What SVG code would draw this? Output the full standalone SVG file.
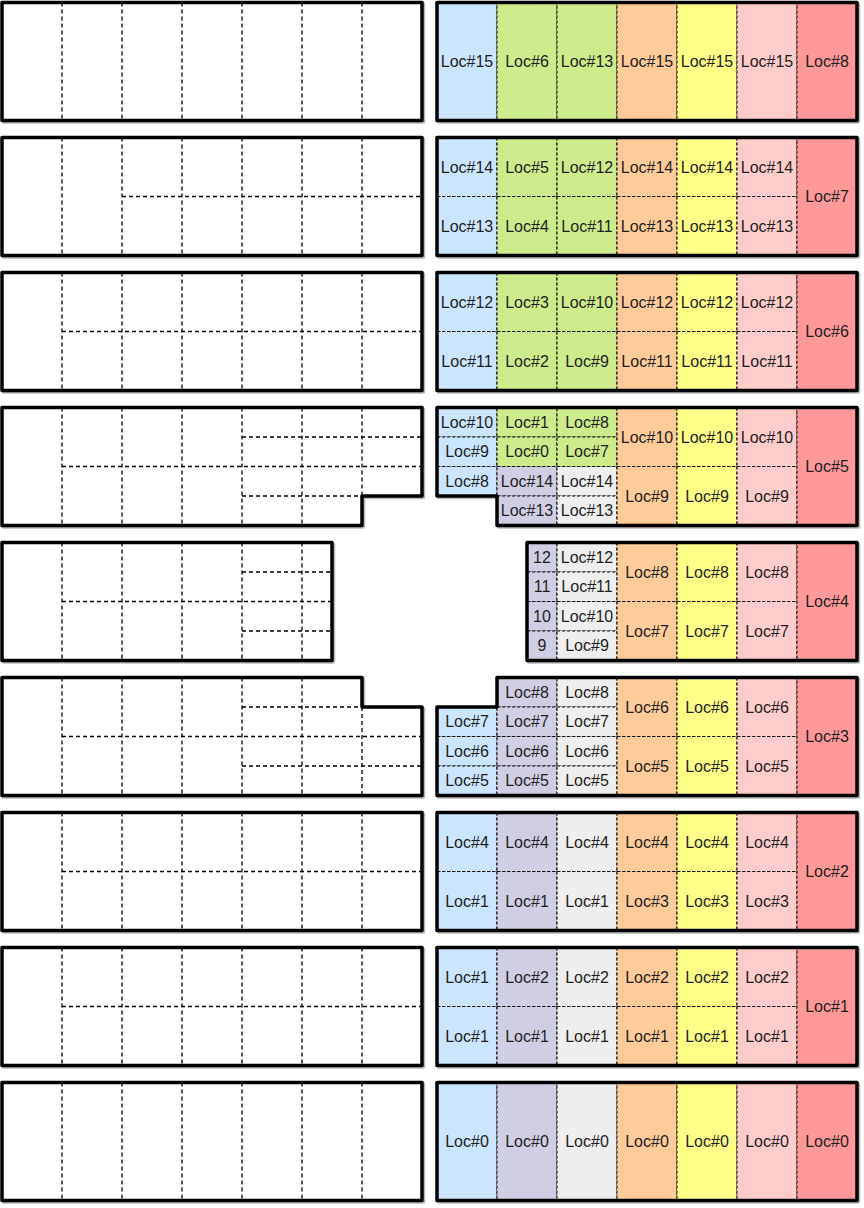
<svg xmlns="http://www.w3.org/2000/svg" width="864" height="1208" viewBox="0 0 864 1208">
<style>
.bg{fill:#ffffff}
.o{fill:none;stroke:#000;stroke-width:3.5;stroke-linejoin:round}
.sh{fill:none;stroke:#000;stroke-opacity:0.28;stroke-width:3.5;stroke-linejoin:round}
.d{fill:none;stroke:#000;stroke-width:1.3;stroke-dasharray:4 3}
.c{stroke:#111;stroke-width:1.1;stroke-dasharray:3 2}
.b{fill:#cce5ff}.g{fill:#cdeb8b}.v{fill:#d0cee2}.y0{fill:#eeeeee}.or{fill:#ffcc99}.ye{fill:#ffff88}.p{fill:#ffcccc}.r{fill:#ff9999}
text{font-family:"Liberation Sans",Arial,sans-serif;font-size:16px;fill:#1e1e1e;text-anchor:middle;dominant-baseline:central}
</style>
<rect x="0" y="0" width="864" height="1208" fill="#ffffff"/>

<!-- LEFT SIDE -->
<g id="left-row0">
<path class="sh" transform="translate(1.5,1.5)" d="M2,2.5H422V120.5H2Z"/>
<path class="bg" d="M2,2.5H422V120.5H2Z"/>
<path class="d" d="M62,2.5V120.5M122,2.5V120.5M182,2.5V120.5M242,2.5V120.5M302,2.5V120.5M362,2.5V120.5"/>
<path class="o" d="M2,2.5H422V120.5H2Z"/>
</g>
<g id="left-row1">
<path class="sh" transform="translate(1.5,1.5)" d="M2,137.5H422V255.5H2Z"/>
<path class="bg" d="M2,137.5H422V255.5H2Z"/>
<path class="d" d="M62,137.5V255.5M122,137.5V255.5M182,137.5V255.5M242,137.5V255.5M302,137.5V255.5M362,137.5V255.5M122,196.5H422"/>
<path class="o" d="M2,137.5H422V255.5H2Z"/>
</g>
<g id="left-row2">
<path class="sh" transform="translate(1.5,1.5)" d="M2,272.5H422V390.5H2Z"/>
<path class="bg" d="M2,272.5H422V390.5H2Z"/>
<path class="d" d="M62,272.5V390.5M122,272.5V390.5M182,272.5V390.5M242,272.5V390.5M302,272.5V390.5M362,272.5V390.5M62,331.5H422"/>
<path class="o" d="M2,272.5H422V390.5H2Z"/>
</g>
<g id="left-row3">
<path class="sh" transform="translate(1.5,1.5)" d="M2,407.5H422V496H362V525.5H2Z"/>
<path class="bg" d="M2,407.5H422V496H362V525.5H2Z"/>
<path class="d" d="M62,407.5V525.5M122,407.5V525.5M182,407.5V525.5M242,407.5V525.5M302,407.5V525.5M362,407.5V496M242,437H422M62,466.5H422M242,496H362"/>
<path class="o" d="M2,407.5H422V496H362V525.5H2Z"/>
</g>
<g id="left-row4">
<path class="sh" transform="translate(1.5,1.5)" d="M2,542.5H332V660.5H2Z"/>
<path class="bg" d="M2,542.5H332V660.5H2Z"/>
<path class="d" d="M62,542.5V660.5M122,542.5V660.5M182,542.5V660.5M242,542.5V660.5M302,542.5V660.5M242,572H332M62,601.5H332M242,631H332"/>
<path class="o" d="M2,542.5H332V660.5H2Z"/>
</g>
<g id="left-row5">
<path class="sh" transform="translate(1.5,1.5)" d="M2,677.5H362V707H422V795.5H2Z"/>
<path class="bg" d="M2,677.5H362V707H422V795.5H2Z"/>
<path class="d" d="M62,677.5V795.5M122,677.5V795.5M182,677.5V795.5M242,677.5V795.5M302,677.5V795.5M362,707V795.5M242,707H362M62,736.5H422M242,766H422"/>
<path class="o" d="M2,677.5H362V707H422V795.5H2Z"/>
</g>
<g id="left-row6">
<path class="sh" transform="translate(1.5,1.5)" d="M2,812.5H422V930.5H2Z"/>
<path class="bg" d="M2,812.5H422V930.5H2Z"/>
<path class="d" d="M62,812.5V930.5M122,812.5V930.5M182,812.5V930.5M242,812.5V930.5M302,812.5V930.5M362,812.5V930.5M62,871.5H422"/>
<path class="o" d="M2,812.5H422V930.5H2Z"/>
</g>
<g id="left-row7">
<path class="sh" transform="translate(1.5,1.5)" d="M2,947.5H422V1065.5H2Z"/>
<path class="bg" d="M2,947.5H422V1065.5H2Z"/>
<path class="d" d="M62,947.5V1065.5M122,947.5V1065.5M182,947.5V1065.5M242,947.5V1065.5M302,947.5V1065.5M362,947.5V1065.5M62,1006.5H422"/>
<path class="o" d="M2,947.5H422V1065.5H2Z"/>
</g>
<g id="left-row8">
<path class="sh" transform="translate(1.5,1.5)" d="M2,1082.5H422V1200.5H2Z"/>
<path class="bg" d="M2,1082.5H422V1200.5H2Z"/>
<path class="d" d="M62,1082.5V1200.5M122,1082.5V1200.5M182,1082.5V1200.5M242,1082.5V1200.5M302,1082.5V1200.5M362,1082.5V1200.5"/>
<path class="o" d="M2,1082.5H422V1200.5H2Z"/>
</g>

<!-- RIGHT SIDE -->
<g id="right-row0">
<path class="sh" transform="translate(1.5,1.5)" d="M437,2.5H857V120.5H437Z"/>
<rect class="c b" x="437" y="2.5" width="60" height="118"/>
<rect class="c g" x="497" y="2.5" width="60" height="118"/>
<rect class="c g" x="557" y="2.5" width="60" height="118"/>
<rect class="c or" x="617" y="2.5" width="60" height="118"/>
<rect class="c ye" x="677" y="2.5" width="60" height="118"/>
<rect class="c p" x="737" y="2.5" width="60" height="118"/>
<rect class="c r" x="797" y="2.5" width="60" height="118"/>
<text x="467" y="61.5">Loc#15</text><text x="527" y="61.5">Loc#6</text><text x="587" y="61.5">Loc#13</text><text x="647" y="61.5">Loc#15</text><text x="707" y="61.5">Loc#15</text><text x="767" y="61.5">Loc#15</text><text x="827" y="61.5">Loc#8</text>
<path class="o" d="M437,2.5H857V120.5H437Z"/>
</g>

<g id="right-row1">
<path class="sh" transform="translate(1.5,1.5)" d="M437,137.5H857V255.5H437Z"/>
<rect class="c b" x="437" y="137.5" width="60" height="59"/><rect class="c b" x="437" y="196.5" width="60" height="59"/>
<rect class="c g" x="497" y="137.5" width="60" height="59"/><rect class="c g" x="497" y="196.5" width="60" height="59"/>
<rect class="c g" x="557" y="137.5" width="60" height="59"/><rect class="c g" x="557" y="196.5" width="60" height="59"/>
<rect class="c or" x="617" y="137.5" width="60" height="59"/><rect class="c or" x="617" y="196.5" width="60" height="59"/>
<rect class="c ye" x="677" y="137.5" width="60" height="59"/><rect class="c ye" x="677" y="196.5" width="60" height="59"/>
<rect class="c p" x="737" y="137.5" width="60" height="59"/><rect class="c p" x="737" y="196.5" width="60" height="59"/>
<rect class="c r" x="797" y="137.5" width="60" height="118"/>
<text x="467" y="167">Loc#14</text><text x="527" y="167">Loc#5</text><text x="587" y="167">Loc#12</text><text x="647" y="167">Loc#14</text><text x="707" y="167">Loc#14</text><text x="767" y="167">Loc#14</text>
<text x="467" y="226">Loc#13</text><text x="527" y="226">Loc#4</text><text x="587" y="226">Loc#11</text><text x="647" y="226">Loc#13</text><text x="707" y="226">Loc#13</text><text x="767" y="226">Loc#13</text>
<text x="827" y="196.5">Loc#7</text>
<path class="o" d="M437,137.5H857V255.5H437Z"/>
</g>

<g id="right-row2">
<path class="sh" transform="translate(1.5,1.5)" d="M437,272.5H857V390.5H437Z"/>
<rect class="c b" x="437" y="272.5" width="60" height="59"/><rect class="c b" x="437" y="331.5" width="60" height="59"/>
<rect class="c g" x="497" y="272.5" width="60" height="59"/><rect class="c g" x="497" y="331.5" width="60" height="59"/>
<rect class="c g" x="557" y="272.5" width="60" height="59"/><rect class="c g" x="557" y="331.5" width="60" height="59"/>
<rect class="c or" x="617" y="272.5" width="60" height="59"/><rect class="c or" x="617" y="331.5" width="60" height="59"/>
<rect class="c ye" x="677" y="272.5" width="60" height="59"/><rect class="c ye" x="677" y="331.5" width="60" height="59"/>
<rect class="c p" x="737" y="272.5" width="60" height="59"/><rect class="c p" x="737" y="331.5" width="60" height="59"/>
<rect class="c r" x="797" y="272.5" width="60" height="118"/>
<text x="467" y="302">Loc#12</text><text x="527" y="302">Loc#3</text><text x="587" y="302">Loc#10</text><text x="647" y="302">Loc#12</text><text x="707" y="302">Loc#12</text><text x="767" y="302">Loc#12</text>
<text x="467" y="361">Loc#11</text><text x="527" y="361">Loc#2</text><text x="587" y="361">Loc#9</text><text x="647" y="361">Loc#11</text><text x="707" y="361">Loc#11</text><text x="767" y="361">Loc#11</text>
<text x="827" y="331.5">Loc#6</text>
<path class="o" d="M437,272.5H857V390.5H437Z"/>
</g>

<g id="right-row3">
<path class="sh" transform="translate(1.5,1.5)" d="M437,407.5H857V525.5H497V496H437Z"/>
<rect class="c b" x="437" y="407.5" width="60" height="29.5"/><rect class="c b" x="437" y="437" width="60" height="29.5"/><rect class="c b" x="437" y="466.5" width="60" height="29.5"/>
<rect class="c g" x="497" y="407.5" width="60" height="29.5"/><rect class="c g" x="497" y="437" width="60" height="29.5"/><rect class="c v" x="497" y="466.5" width="60" height="29.5"/><rect class="c v" x="497" y="496" width="60" height="29.5"/>
<rect class="c g" x="557" y="407.5" width="60" height="29.5"/><rect class="c g" x="557" y="437" width="60" height="29.5"/><rect class="c y0" x="557" y="466.5" width="60" height="29.5"/><rect class="c y0" x="557" y="496" width="60" height="29.5"/>
<rect class="c or" x="617" y="407.5" width="60" height="59"/><rect class="c or" x="617" y="466.5" width="60" height="59"/>
<rect class="c ye" x="677" y="407.5" width="60" height="59"/><rect class="c ye" x="677" y="466.5" width="60" height="59"/>
<rect class="c p" x="737" y="407.5" width="60" height="59"/><rect class="c p" x="737" y="466.5" width="60" height="59"/>
<rect class="c r" x="797" y="407.5" width="60" height="118"/>
<text x="467" y="422.25">Loc#10</text><text x="467" y="451.75">Loc#9</text><text x="467" y="481.25">Loc#8</text>
<text x="527" y="422.25">Loc#1</text><text x="527" y="451.75">Loc#0</text><text x="527" y="481.25">Loc#14</text><text x="527" y="510.75">Loc#13</text>
<text x="587" y="422.25">Loc#8</text><text x="587" y="451.75">Loc#7</text><text x="587" y="481.25">Loc#14</text><text x="587" y="510.75">Loc#13</text>
<text x="647" y="437">Loc#10</text><text x="707" y="437">Loc#10</text><text x="767" y="437">Loc#10</text>
<text x="647" y="496">Loc#9</text><text x="707" y="496">Loc#9</text><text x="767" y="496">Loc#9</text>
<text x="827" y="466.5">Loc#5</text>
<path class="o" d="M437,407.5H857V525.5H497V496H437Z"/>
</g>

<g id="right-row4">
<path class="sh" transform="translate(1.5,1.5)" d="M527,542.5H857V660.5H527Z"/>
<rect class="c v" x="527" y="542.5" width="30" height="29.5"/><rect class="c v" x="527" y="572" width="30" height="29.5"/><rect class="c v" x="527" y="601.5" width="30" height="29.5"/><rect class="c v" x="527" y="631" width="30" height="29.5"/>
<rect class="c y0" x="557" y="542.5" width="60" height="29.5"/><rect class="c y0" x="557" y="572" width="60" height="29.5"/><rect class="c y0" x="557" y="601.5" width="60" height="29.5"/><rect class="c y0" x="557" y="631" width="60" height="29.5"/>
<rect class="c or" x="617" y="542.5" width="60" height="59"/><rect class="c or" x="617" y="601.5" width="60" height="59"/>
<rect class="c ye" x="677" y="542.5" width="60" height="59"/><rect class="c ye" x="677" y="601.5" width="60" height="59"/>
<rect class="c p" x="737" y="542.5" width="60" height="59"/><rect class="c p" x="737" y="601.5" width="60" height="59"/>
<rect class="c r" x="797" y="542.5" width="60" height="118"/>
<text x="542" y="557.25">12</text><text x="542" y="586.75">11</text><text x="542" y="616.25">10</text><text x="542" y="645.75">9</text>
<text x="587" y="557.25">Loc#12</text><text x="587" y="586.75">Loc#11</text><text x="587" y="616.25">Loc#10</text><text x="587" y="645.75">Loc#9</text>
<text x="647" y="572">Loc#8</text><text x="707" y="572">Loc#8</text><text x="767" y="572">Loc#8</text>
<text x="647" y="631">Loc#7</text><text x="707" y="631">Loc#7</text><text x="767" y="631">Loc#7</text>
<text x="827" y="601.5">Loc#4</text>
<path class="o" d="M527,542.5H857V660.5H527Z"/>
</g>

<g id="right-row5">
<path class="sh" transform="translate(1.5,1.5)" d="M497,677.5H857V795.5H437V707H497Z"/>
<rect class="c b" x="437" y="707" width="60" height="29.5"/><rect class="c b" x="437" y="736.5" width="60" height="29.5"/><rect class="c b" x="437" y="766" width="60" height="29.5"/>
<rect class="c v" x="497" y="677.5" width="60" height="29.5"/><rect class="c v" x="497" y="707" width="60" height="29.5"/><rect class="c v" x="497" y="736.5" width="60" height="29.5"/><rect class="c v" x="497" y="766" width="60" height="29.5"/>
<rect class="c y0" x="557" y="677.5" width="60" height="29.5"/><rect class="c y0" x="557" y="707" width="60" height="29.5"/><rect class="c y0" x="557" y="736.5" width="60" height="29.5"/><rect class="c y0" x="557" y="766" width="60" height="29.5"/>
<rect class="c or" x="617" y="677.5" width="60" height="59"/><rect class="c or" x="617" y="736.5" width="60" height="59"/>
<rect class="c ye" x="677" y="677.5" width="60" height="59"/><rect class="c ye" x="677" y="736.5" width="60" height="59"/>
<rect class="c p" x="737" y="677.5" width="60" height="59"/><rect class="c p" x="737" y="736.5" width="60" height="59"/>
<rect class="c r" x="797" y="677.5" width="60" height="118"/>
<text x="467" y="721.75">Loc#7</text><text x="467" y="751.25">Loc#6</text><text x="467" y="780.75">Loc#5</text>
<text x="527" y="692.25">Loc#8</text><text x="527" y="721.75">Loc#7</text><text x="527" y="751.25">Loc#6</text><text x="527" y="780.75">Loc#5</text>
<text x="587" y="692.25">Loc#8</text><text x="587" y="721.75">Loc#7</text><text x="587" y="751.25">Loc#6</text><text x="587" y="780.75">Loc#5</text>
<text x="647" y="707">Loc#6</text><text x="707" y="707">Loc#6</text><text x="767" y="707">Loc#6</text>
<text x="647" y="766">Loc#5</text><text x="707" y="766">Loc#5</text><text x="767" y="766">Loc#5</text>
<text x="827" y="736.5">Loc#3</text>
<path class="o" d="M497,677.5H857V795.5H437V707H497Z"/>
</g>

<g id="right-row6">
<path class="sh" transform="translate(1.5,1.5)" d="M437,812.5H857V930.5H437Z"/>
<rect class="c b" x="437" y="812.5" width="60" height="59"/><rect class="c b" x="437" y="871.5" width="60" height="59"/>
<rect class="c v" x="497" y="812.5" width="60" height="59"/><rect class="c v" x="497" y="871.5" width="60" height="59"/>
<rect class="c y0" x="557" y="812.5" width="60" height="59"/><rect class="c y0" x="557" y="871.5" width="60" height="59"/>
<rect class="c or" x="617" y="812.5" width="60" height="59"/><rect class="c or" x="617" y="871.5" width="60" height="59"/>
<rect class="c ye" x="677" y="812.5" width="60" height="59"/><rect class="c ye" x="677" y="871.5" width="60" height="59"/>
<rect class="c p" x="737" y="812.5" width="60" height="59"/><rect class="c p" x="737" y="871.5" width="60" height="59"/>
<rect class="c r" x="797" y="812.5" width="60" height="118"/>
<text x="467" y="842">Loc#4</text><text x="527" y="842">Loc#4</text><text x="587" y="842">Loc#4</text><text x="647" y="842">Loc#4</text><text x="707" y="842">Loc#4</text><text x="767" y="842">Loc#4</text>
<text x="467" y="901">Loc#1</text><text x="527" y="901">Loc#1</text><text x="587" y="901">Loc#1</text><text x="647" y="901">Loc#3</text><text x="707" y="901">Loc#3</text><text x="767" y="901">Loc#3</text>
<text x="827" y="871.5">Loc#2</text>
<path class="o" d="M437,812.5H857V930.5H437Z"/>
</g>

<g id="right-row7">
<path class="sh" transform="translate(1.5,1.5)" d="M437,947.5H857V1065.5H437Z"/>
<rect class="c b" x="437" y="947.5" width="60" height="59"/><rect class="c b" x="437" y="1006.5" width="60" height="59"/>
<rect class="c v" x="497" y="947.5" width="60" height="59"/><rect class="c v" x="497" y="1006.5" width="60" height="59"/>
<rect class="c y0" x="557" y="947.5" width="60" height="59"/><rect class="c y0" x="557" y="1006.5" width="60" height="59"/>
<rect class="c or" x="617" y="947.5" width="60" height="59"/><rect class="c or" x="617" y="1006.5" width="60" height="59"/>
<rect class="c ye" x="677" y="947.5" width="60" height="59"/><rect class="c ye" x="677" y="1006.5" width="60" height="59"/>
<rect class="c p" x="737" y="947.5" width="60" height="59"/><rect class="c p" x="737" y="1006.5" width="60" height="59"/>
<rect class="c r" x="797" y="947.5" width="60" height="118"/>
<text x="467" y="977">Loc#1</text><text x="527" y="977">Loc#2</text><text x="587" y="977">Loc#2</text><text x="647" y="977">Loc#2</text><text x="707" y="977">Loc#2</text><text x="767" y="977">Loc#2</text>
<text x="467" y="1036">Loc#1</text><text x="527" y="1036">Loc#1</text><text x="587" y="1036">Loc#1</text><text x="647" y="1036">Loc#1</text><text x="707" y="1036">Loc#1</text><text x="767" y="1036">Loc#1</text>
<text x="827" y="1006.5">Loc#1</text>
<path class="o" d="M437,947.5H857V1065.5H437Z"/>
</g>

<g id="right-row8">
<path class="sh" transform="translate(1.5,1.5)" d="M437,1082.5H857V1200.5H437Z"/>
<rect class="c b" x="437" y="1082.5" width="60" height="118"/>
<rect class="c v" x="497" y="1082.5" width="60" height="118"/>
<rect class="c y0" x="557" y="1082.5" width="60" height="118"/>
<rect class="c or" x="617" y="1082.5" width="60" height="118"/>
<rect class="c ye" x="677" y="1082.5" width="60" height="118"/>
<rect class="c p" x="737" y="1082.5" width="60" height="118"/>
<rect class="c r" x="797" y="1082.5" width="60" height="118"/>
<text x="467" y="1141.5">Loc#0</text><text x="527" y="1141.5">Loc#0</text><text x="587" y="1141.5">Loc#0</text><text x="647" y="1141.5">Loc#0</text><text x="707" y="1141.5">Loc#0</text><text x="767" y="1141.5">Loc#0</text><text x="827" y="1141.5">Loc#0</text>
<path class="o" d="M437,1082.5H857V1200.5H437Z"/>
</g>

<g id="connectors"></g>
</svg>
